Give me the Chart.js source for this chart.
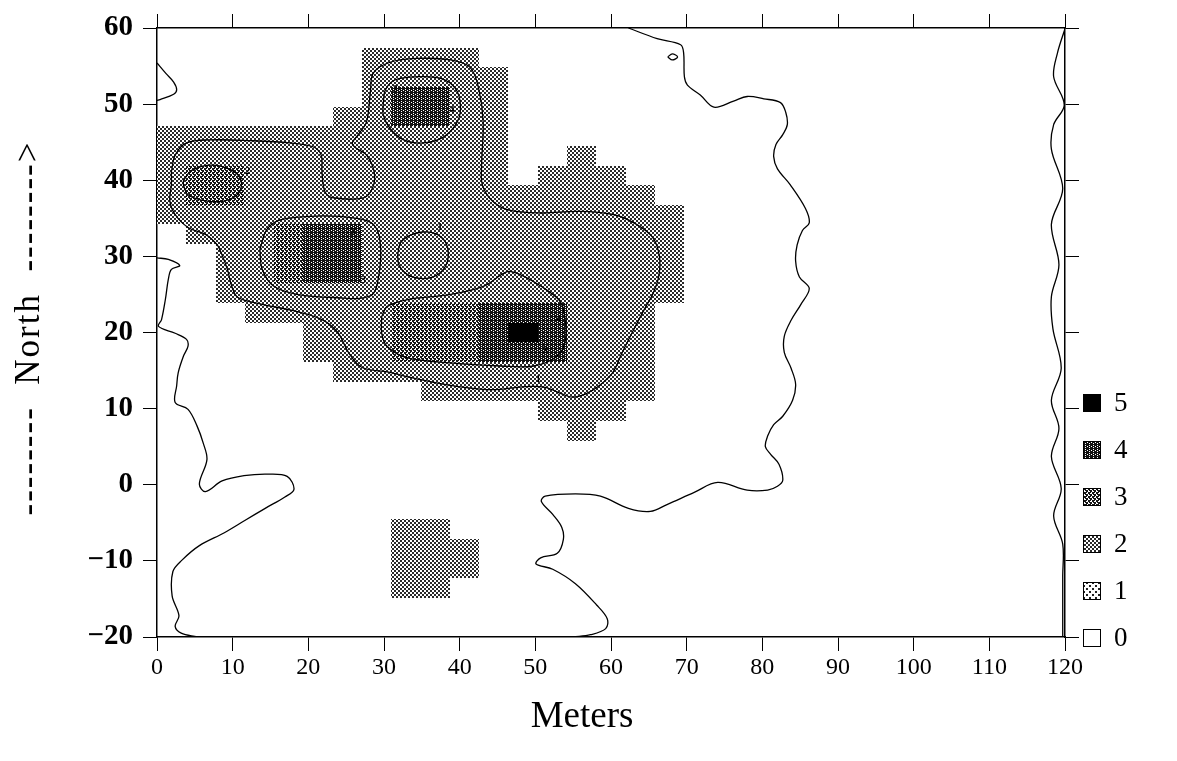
<!DOCTYPE html>
<html>
<head>
<meta charset="utf-8">
<title>Survey grid</title>
<script src="https://cdn.jsdelivr.net/npm/chart.js@4.4.1/dist/chart.umd.min.js"></script>
<style>
  html, body { margin: 0; padding: 0; background: #fff; }
</style>
</head>
<body>
<canvas id="map" width="1177" height="761"></canvas>
<script>
// survey area: 0..120 m east, -20..60 north, split into a 31 x 31 grid
const xRange = [0, 120];
const yRange = [-20, 60];
const gridCols = 31;
const xTicks = [0, 10, 20, 30, 40, 50, 60, 70, 80, 90, 100, 110, 120];
const yTicks = [-20, -10, 0, 10, 20, 30, 40, 50, 60];
const legendLevels = [5, 4, 3, 2, 1, 0];

// class of every cell, northern row first (rows are padded with 0 on the east)
const levelRows = [
  '',
  '00000002222',
  '000000022222',
  '000000024422',
  '000000224422',
  '222222222222',
  '222222222222002',
  '2332222222220222',
  '23322222222222222',
  '222222222222222222',
  '022234422222222222',
  '002234422222222222',
  '002234422222222222',
  '002222222222222222',
  '00022222333444222',
  '00000222333454222',
  '00000222333444222',
  '00000022222222222',
  '00000000022222222',
  '0000000000000222',
  '000000000000002',
  '', '', '', '',
  '0000000022',
  '00000000222',
  '00000000222',
  '0000000022',
  '', ''
].map(r => r.padEnd(gridCols, '0'));

// contour lines, [east, north]
const contourEast = [
  [62.3, 60], [66.1, 58.6], [69.2, 57.8], [69.6, 56.7], [69.7, 53.6], [70.1, 52.5],
  [71.8, 51.2], [73.6, 49.6], [76.2, 50.4], [78.0, 51.0], [80.2, 50.7], [82.4, 50.2],
  [83.1, 48.9], [83.3, 47.3], [82.7, 46.0], [81.8, 44.7], [81.5, 43.1], [82.0, 41.5],
  [83.7, 39.4], [85.7, 36.3], [86.2, 34.4], [85.3, 33.4], [84.6, 31.5], [84.4, 29.4],
  [84.9, 27.3], [86.2, 25.8], [85.1, 23.7], [83.8, 21.6], [82.9, 19.5], [82.9, 17.4],
  [83.8, 15.3], [84.4, 13.2], [84.0, 11.1], [82.7, 9.0], [81.5, 7.9], [80.7, 6.4],
  [80.4, 5.0], [81.1, 4.0], [82.2, 2.7], [82.7, 0.6], [82.0, -0.2], [80.7, -0.7],
  [78.0, -0.7], [74.1, 0.3], [71.0, -1.0], [67.4, -2.6], [65.2, -3.5], [62.3, -3.1],
  [58.6, -1.5], [55.3, -1.2], [51.3, -1.5], [50.8, -2.2], [52.3, -3.9], [53.5, -5.6],
  [53.7, -7.2], [52.9, -9.0], [50.7, -9.6], [50.1, -10.4], [52.3, -11.1], [55.3, -13.0],
  [58.1, -15.8], [59.5, -17.6], [59.3, -18.9], [57.3, -19.7], [55.0, -20]
];
const contourWestTop = [
  [0, 55.4], [1.2, 54.0], [2.2, 52.9], [2.6, 51.9], [2.2, 51.3], [0.4, 50.6], [0, 50.5]
];
const contourWest = [
  [0, 29.8], [1.5, 29.6], [3.0, 28.8], [1.9, 28.3], [1.5, 27.0], [1.1, 24.3], [0.6, 21.7],
  [0.2, 20.8], [2.4, 19.9], [3.9, 19.1], [4.1, 18.2], [3.5, 16.9], [2.8, 14.7], [2.6, 13.0],
  [2.4, 10.8], [4.1, 9.9], [5.3, 7.7], [6.1, 5.5], [6.6, 3.3], [5.6, 0.1], [6.4, -0.9],
  [8.6, 0.5], [11.5, 1.2], [14.6, 1.4], [17.2, 1.1], [18.1, -0.6], [16.9, -1.6],
  [14.3, -3.1], [11.6, -4.7], [8.9, -6.3], [5.6, -8.0], [3.3, -9.9], [2.1, -11.4],
  [2.0, -14.6], [2.9, -17.2], [2.4, -18.6], [3.2, -19.5], [5.3, -20]
];
const contourEdge = [
  [120, 59.9], [119.0, 56.7], [118.5, 53.6], [119.9, 49.9], [118.5, 47.3], [118.2, 44.1],
  [119.7, 38.9], [118.2, 34.2], [119.2, 28.9], [118.2, 24.7], [118.4, 20.5], [119.5, 15.3],
  [118.2, 11.1], [119.2, 7.4], [118.2, 3.7], [119.5, -0.5], [118.5, -4.1], [119.7, -7.8],
  [119.7, -12.0], [119.7, -16.2], [119.7, -19.9]
];
const contourMark0 = [[67.5, 56.2], [68.1, 56.6], [68.8, 56.2], [68.1, 55.8], [67.5, 56.2]];
const contourOne = [
  [1.9, 41.1], [2.4, 43.3], [3.9, 44.9], [7.0, 45.3], [12.3, 45.2], [17.6, 44.9], [20.6, 44.4],
  [21.7, 43.3], [21.8, 41.1], [22.2, 38.5], [23.3, 37.7], [27.3, 37.7], [28.5, 39.0],
  [28.7, 41.1], [27.7, 43.3], [26.2, 44.3], [25.8, 44.9], [26.6, 46.0], [27.7, 47.7],
  [28.2, 51.6], [28.6, 54.1], [30.8, 55.5], [34.4, 56.0], [38.8, 55.8], [41.4, 54.8],
  [42.5, 52.1], [43.1, 47.7], [42.9, 42.0], [43.0, 39.4], [44.3, 37.3], [46.4, 36.1],
  [50.7, 35.7], [55.7, 35.9], [60.3, 35.5], [63.2, 34.3], [65.5, 32.5], [66.4, 30.0],
  [66.3, 27.3], [65.5, 25.0], [64.6, 23.4], [62.8, 20.0], [61.5, 17.4], [60.2, 14.7],
  [58.3, 12.9], [56.6, 11.9], [54.9, 11.5], [53.6, 11.9], [51.3, 12.8], [48.7, 12.9],
  [44.3, 12.5], [39.8, 12.9], [36.8, 13.4], [33.5, 14.1], [30.6, 14.8], [27.1, 15.4],
  [25.3, 17.4], [23.9, 20.0], [21.8, 21.7], [18.3, 22.8], [13.9, 23.7], [10.7, 24.6],
  [9.9, 26.0], [9.3, 28.3], [8.1, 31.3], [7.3, 32.2], [6.4, 32.9], [4.1, 33.8],
  [2.4, 35.5], [1.7, 37.3], [1.9, 39.4], [1.9, 41.1]
];
const contourOneHole = [
  [31.8, 30.2], [32.2, 31.8], [33.5, 32.8], [35.1, 33.2], [36.8, 33.0], [38.1, 31.9],
  [38.5, 30.2], [38.0, 28.5], [36.5, 27.3], [34.8, 27.1], [33.1, 27.6], [32.0, 28.8], [31.8, 30.2]
];
const contourTwoNorth = [
  [29.9, 50.1], [30.2, 51.9], [31.5, 53.2], [34.4, 53.6], [37.4, 53.4], [39.4, 52.1],
  [40.1, 49.9], [39.7, 47.7], [37.9, 45.7], [35.2, 44.9], [32.6, 45.3], [30.8, 46.8],
  [29.9, 48.6], [29.9, 50.1]
];
const contourTwoWest = [
  [3.5, 40.0], [4.6, 41.3], [7.2, 42.0], [9.9, 41.3], [11.1, 40.0], [10.8, 38.3], [9.0, 37.3],
  [6.4, 37.3], [4.1, 38.1], [3.5, 39.4], [3.5, 40.0]
];
const contourTwoMid = [
  [13.6, 30.9], [14.5, 33.5], [16.3, 34.8], [21.1, 35.3], [26.4, 35.0], [28.6, 34.2],
  [29.5, 31.8], [29.3, 27.4], [28.2, 24.8], [23.3, 24.6], [18.5, 25.0], [15.4, 26.1],
  [13.9, 28.3], [13.6, 30.9]
];
const contourTwoSouth = [
  [29.7, 22.1], [30.4, 23.4], [33.0, 24.3], [38.8, 25.0], [43.2, 26.1], [46.3, 28.0],
  [48.0, 27.6], [50.7, 26.1], [53.1, 24.3], [53.8, 22.6], [54.0, 19.1], [52.9, 16.9],
  [49.8, 15.6], [45.4, 15.6], [38.8, 16.0], [33.0, 16.7], [30.4, 18.2], [29.7, 19.9], [29.7, 22.1]
];
const contourLabels = [
  ['2', 12.0, 41.2], ['3', 25.9, 33.2], ['3', 27.3, 26.9], ['1', 37.4, 33.8],
  ['3', 31.5, 51.9], ['4', 39.0, 49.2], ['4', 53.1, 21.7], ['3', 51.3, 17.7], ['1', 50.4, 13.9]
];

const serif = "'Liberation Serif', 'Times New Roman', serif";

// halftone screens for the shading classes
function screen(rows, ink) {
  const c = document.createElement('canvas');
  c.width = rows[0].length;
  c.height = rows.length;
  const g = c.getContext('2d');
  g.fillStyle = '#fff';
  g.fillRect(0, 0, c.width, c.height);
  g.fillStyle = ink;
  rows.forEach((r, j) => {
    for (let i = 0; i < r.length; i++) if (r[i] === '#') g.fillRect(i, j, 1, 1);
  });
  return c.getContext('2d').createPattern(c, 'repeat');
}
const shades = {
  0: '#fff',
  1: screen(['##....', '##....', '......', '...##.', '...##.', '......'], '#222'),
  2: screen(['##..', '##..', '..##', '..##'], '#2a2a2a'),
  3: screen(['###.', '##..', '.###', '..##'], '#161616'),
  4: screen(['####', '#.##', '###.', '#.##'], '#111'),
  5: '#000'
};

const cellsPlugin = {
  id: 'cells',
  beforeDatasetsDraw(chart) {
    const { ctx, scales: { x, y } } = chart;
    const cw = (xRange[1] - xRange[0]) / gridCols;
    const ch = (yRange[1] - yRange[0]) / levelRows.length;
    ctx.save();
    levelRows.forEach((row, t) => {
      const north = yRange[1] - t * ch;
      for (let c = 0; c < gridCols; c++) {
        const lv = +row[c];
        if (!lv) continue;
        const x0 = Math.round(x.getPixelForValue(xRange[0] + c * cw));
        const x1 = Math.round(x.getPixelForValue(xRange[0] + (c + 1) * cw));
        const y0 = Math.round(y.getPixelForValue(north));
        const y1 = Math.round(y.getPixelForValue(north - ch));
        ctx.fillStyle = shades[lv];
        ctx.fillRect(x0, y0, x1 - x0, y1 - y0);
      }
    });
    ctx.restore();
  },
  afterDatasetsDraw(chart) {
    const { ctx, scales: { x, y } } = chart;
    ctx.save();
    ctx.fillStyle = '#000';
    ctx.font = 'bold 10px ' + serif;
    ctx.textAlign = 'center';
    ctx.textBaseline = 'middle';
    contourLabels.forEach(([t, e, n]) => ctx.fillText(t, x.getPixelForValue(e), y.getPixelForValue(n)));
    ctx.restore();
  },
  afterDraw(chart) {
    const { ctx } = chart;
    ctx.save();
    // legend
    ctx.font = '27px ' + serif;
    ctx.textBaseline = 'middle';
    ctx.textAlign = 'left';
    legendLevels.forEach((lv, i) => {
      const cy = 403 + i * 47;
      ctx.fillStyle = shades[lv];
      ctx.fillRect(1083, cy - 9, 18, 18);
      ctx.strokeStyle = '#000';
      ctx.lineWidth = 1;
      ctx.strokeRect(1083.5, cy - 8.5, 17, 17);
      ctx.fillStyle = '#000';
      ctx.fillText(String(lv), 1114, cy + 1);
    });
    // axis titles
    ctx.textAlign = 'center';
    ctx.font = '37px ' + serif;
    ctx.fillText('Meters', 582, 717);
    ctx.translate(30, 328);
    ctx.rotate(-Math.PI / 2);
    ctx.font = '35px ' + serif;
    ctx.letterSpacing = '2px';
    ctx.fillText('--------  North  -------->', 0, 0);
    ctx.restore();
  }
};

const line = (pts) => ({
  data: pts.map(([e, n]) => ({ x: e, y: n })),
  showLine: true,
  pointRadius: 0,
  borderColor: '#000',
  borderWidth: 1.3,
  tension: 0.35,
  fill: false
});

const axisLine = { display: true, color: '#000', width: 1.5 };
const tickMarks = { display: true, drawOnChartArea: false, drawTicks: true, tickLength: 14, color: '#000', lineWidth: 1 };
const minus = v => (v < 0 ? '\u2212' + Math.abs(v) : String(v));

new Chart(document.getElementById('map'), {
  type: 'scatter',
  data: {
    datasets: [contourEast, contourWestTop, contourWest, contourEdge, contourMark0, contourOne,
      contourOneHole, contourTwoNorth, contourTwoWest, contourTwoMid, contourTwoSouth].map(line)
  },
  options: {
    responsive: false,
    animation: false,
    devicePixelRatio: 1,
    layout: { padding: { left: 0, top: 13, right: 97, bottom: 0 } },
    plugins: { legend: { display: false }, tooltip: { enabled: false } },
    scales: {
      x: {
        type: 'linear', position: 'bottom', min: xRange[0], max: xRange[1],
        afterBuildTicks: s => { s.ticks = xTicks.map(v => ({ value: v })); },
        afterFit: s => { s.height = 124; },
        ticks: { color: '#000', font: { family: serif, size: 24 }, padding: 2, maxRotation: 0, autoSkip: false, callback: minus },
        grid: tickMarks, border: axisLine
      },
      x2: {
        type: 'linear', position: 'top', min: xRange[0], max: xRange[1],
        afterBuildTicks: s => { s.ticks = xTicks.map(v => ({ value: v })); },
        afterFit: s => { s.height = 15; },
        ticks: { display: false }, grid: tickMarks, border: axisLine
      },
      y: {
        type: 'linear', position: 'left', min: yRange[0], max: yRange[1],
        afterBuildTicks: s => { s.ticks = yTicks.map(v => ({ value: v })); },
        afterFit: s => { s.width = 157; },
        ticks: { color: '#000', font: { family: serif, size: 29, weight: 'bold' }, padding: 10, autoSkip: false, callback: minus },
        grid: tickMarks, border: axisLine
      },
      y2: {
        type: 'linear', position: 'right', min: yRange[0], max: yRange[1],
        afterBuildTicks: s => { s.ticks = yTicks.map(v => ({ value: v })); },
        afterFit: s => { s.width = 15; },
        ticks: { display: false }, grid: tickMarks, border: axisLine
      }
    }
  },
  plugins: [cellsPlugin]
});
</script>
</body>
</html>
